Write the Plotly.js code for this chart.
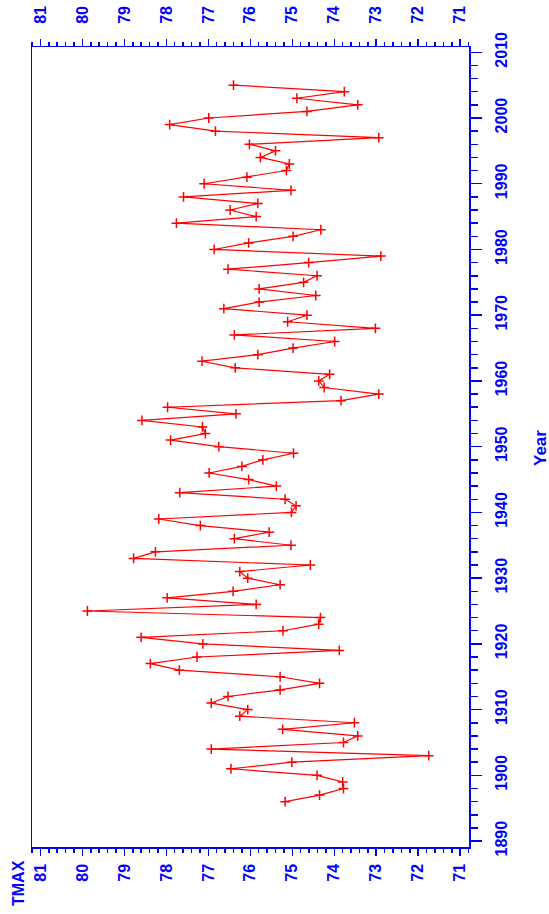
<!DOCTYPE html>
<html>
<head>
<meta charset="utf-8">
<script src="https://cdn.plot.ly/plotly-3.0.1.min.js"></script>
<style>html,body{margin:0;padding:0;background:#fff;}#chart{width:549px;height:914px;}</style>
</head>
<body>
<div id="chart"></div>
<script>
const years = [1896,1897,1898,1899,1900,1901,1902,1903,1904,1905,1906,1907,1908,1909,1910,
1911,1912,1913,1914,1915,1916,1917,1918,1919,1920,1921,1922,1923,1924,1925,
1926,1927,1928,1929,1930,1931,1932,1933,1934,1935,1936,1937,1938,1939,1940,
1941,1942,1943,1944,1945,1946,1947,1948,1949,1950,1951,1952,1953,1954,1955,
1956,1957,1958,1959,1960,1961,1962,1963,1964,1965,1966,1967,1968,1969,1970,
1971,1972,1973,1974,1975,1976,1977,1978,1979,1980,1981,1982,1983,1984,1985,
1986,1987,1988,1989,1990,1991,1992,1993,1994,1995,1996,1997,1998,1999,2000,
2001,2002,2003,2004,2005];
const tmax = [75.17,74.35,73.78,73.80,74.41,76.46,75.01,71.75,76.93,73.78,
73.44,75.23,73.52,76.25,76.06,76.93,76.53,75.29,74.35,75.29,
77.69,78.38,77.27,73.88,77.13,78.60,75.22,74.37,74.33,79.88,
75.86,77.98,76.41,75.29,76.06,76.25,74.57,78.78,78.26,75.03,
76.38,75.55,77.19,78.18,75.02,74.91,75.17,77.68,75.38,76.04,
76.98,76.20,75.70,74.97,76.75,77.90,77.07,77.14,78.58,76.34,
77.97,73.84,72.94,74.24,74.37,74.11,76.36,77.15,75.82,74.98,
73.99,76.38,73.02,75.11,74.65,76.63,75.79,74.44,75.79,74.73,
74.41,76.53,74.61,72.89,76.86,76.04,74.98,74.32,77.76,75.86,
76.48,75.82,77.59,75.03,77.10,76.08,75.14,75.07,75.76,75.40,
76.02,72.94,76.83,77.92,76.99,74.65,73.44,74.89,73.76,76.40];
const xTickVals = [81,80,79,78,77,76,75,74,73,72,71];
const yTickVals = [1890,1900,1910,1920,1930,1940,1950,1960,1970,1980,1990,2000,2010];
const xTitle = 'TMAX';
const yTitle = 'Year';

const blue = '#0000ff';
const tickFont = {family: 'Arial, "Liberation Sans", sans-serif', size: 16, color: blue, weight: 'bold'};

const trace = {
  x: tmax, y: years, type: 'scatter', mode: 'lines+markers',
  line: {color: '#ff0000', width: 1.2},
  marker: {symbol: 'cross-thin', size: 7, line: {color: '#ff0000', width: 1.5}, color: '#ff0000'},
  hoverinfo: 'skip', showlegend: false
};
const traceTop = {
  x: [tmax[0]], y: [years[0]], xaxis: 'x2', yaxis: 'y', type: 'scatter', mode: 'markers',
  marker: {opacity: 0}, hoverinfo: 'skip', showlegend: false
};

const xr = [81.2, 70.79];
const layout = {
  width: 549, height: 914,
  margin: {l: 32, r: 80, t: 47, b: 67, pad: 0},
  paper_bgcolor: '#fff', plot_bgcolor: '#fff',
  showlegend: false,
  xaxis: {
    range: xr, tickvals: xTickVals, ticktext: xTickVals.map(String),
    ticks: 'outside', ticklen: 7, tickwidth: 1.5, tickcolor: blue,
    minor: {dtick: 0.2, ticks: 'outside', ticklen: 4, tickwidth: 1.5, tickcolor: blue, showgrid: false},
    showline: true, linecolor: blue, linewidth: 1.5, mirror: true,
    showgrid: false, zeroline: false, tickangle: -90, tickfont: tickFont,
    ticklabelstandoff: 2
  },
  xaxis2: {
    range: xr, overlaying: 'x', side: 'top', anchor: 'y',
    tickvals: xTickVals, ticktext: xTickVals.map(String),
    ticks: 'outside', ticklen: 7, tickwidth: 1.5, tickcolor: blue,
    minor: {dtick: 0.2, ticks: 'outside', ticklen: 4, tickwidth: 1.5, tickcolor: blue, showgrid: false},
    showline: false, showgrid: false, zeroline: false, tickangle: -90, tickfont: tickFont,
    ticklabelstandoff: 12
  },
  yaxis: {
    range: [1889.1, 2010.8], side: 'right', tickvals: yTickVals,
    ticks: 'outside', ticklen: 11, tickwidth: 1.5, tickcolor: blue,
    minor: {dtick: 2, ticks: 'outside', ticklen: 7, tickwidth: 1.5, tickcolor: blue, showgrid: false},
    showline: true, linecolor: blue, linewidth: 1.5, mirror: true,
    showgrid: false, zeroline: false, tickangle: -90, tickfont: tickFont,
    ticklabelstandoff: 6
  },
  annotations: [
    {text: xTitle, xref: 'paper', yref: 'paper', x: (18-32)/437, y: -(883-847)/800,
     showarrow: false, textangle: -90, xanchor: 'center', yanchor: 'middle',
     font: {family: 'Arial, "Liberation Sans", sans-serif', size: 16, color: blue, weight: 'bold'}},
    {text: yTitle, xref: 'paper', yref: 'paper', x: (540-32)/437, y: (847-448)/800,
     showarrow: false, textangle: -90, xanchor: 'center', yanchor: 'middle',
     font: {family: 'Arial, "Liberation Sans", sans-serif', size: 17, color: blue, weight: 'bold'}}
  ]
};
Plotly.newPlot('chart', [trace, traceTop], layout, {staticPlot: true, displayModeBar: false});
</script>
</body>
</html>
